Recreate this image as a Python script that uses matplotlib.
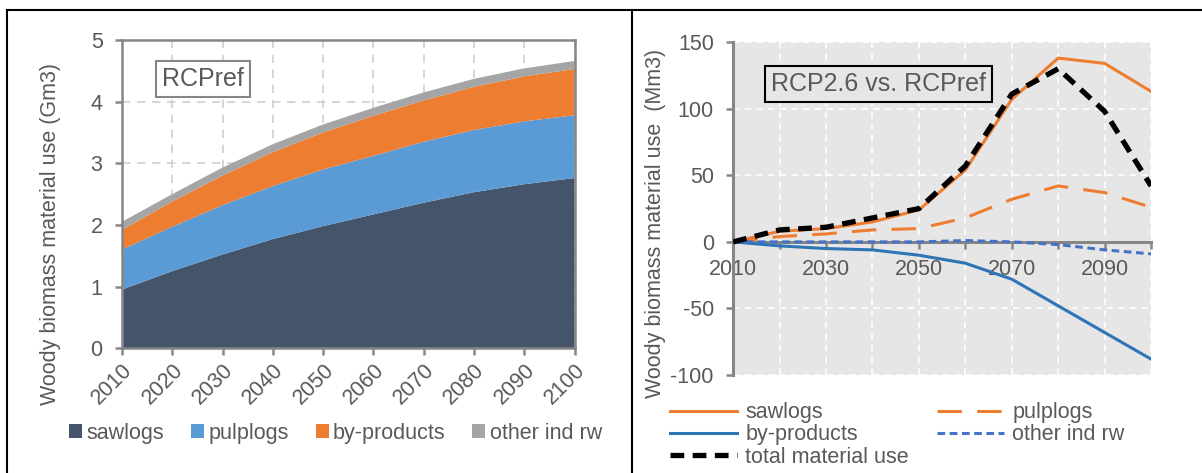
import matplotlib.pyplot as plt
from matplotlib.lines import Line2D

plt.rcParams['font.family'] = ['Liberation Sans', 'DejaVu Sans']
plt.rcParams['axes.unicode_minus'] = False

# DATA
years = [2010, 2020, 2030, 2040, 2050, 2060, 2070, 2080, 2090, 2100]

# RCPref stacked (Gm3)
ref_sawlogs = [0.95, 1.25, 1.52, 1.77, 1.98, 2.17, 2.36, 2.53, 2.66, 2.76]
ref_pulplogs = [0.65, 0.72, 0.80, 0.86, 0.92, 0.95, 0.99, 1.01, 1.02, 1.02]
ref_byproducts = [0.32, 0.41, 0.48, 0.55, 0.60, 0.65, 0.67, 0.70, 0.73, 0.75]
ref_other = [0.13, 0.12, 0.13, 0.13, 0.13, 0.13, 0.13, 0.13, 0.13, 0.13]

# RCP2.6 vs RCPref difference (Mm3)
d_sawlogs = [0, 8, 10, 15, 24, 54, 107, 138, 134, 113]
d_pulplogs = [0, 4, 6, 9, 10, 18, 32, 42, 37, 26]
d_byproducts = [0, -3, -5, -6, -10, -16, -28, -48, -68, -88]
d_other = [0, 0, 0, 0, 0, 1, 0, -2, -6, -9]
d_total = [0, 9, 11, 18, 25, 57, 111, 130, 98, 42]

left_labels = ['sawlogs', 'pulplogs', 'by-products', 'other ind rw']
left_colors = ['#44546a', '#5b9bd5', '#ed7d31', '#a5a5a5']

TXT = '#595959'
AX = '#868686'
FS = 15.5

fig = plt.figure(figsize=(12.02, 4.73), dpi=100)

# ---- left panel ----
ax1 = fig.add_axes([0.1015, 0.264, 0.3765, 0.6514])
ax1.stackplot(years, ref_sawlogs, ref_pulplogs, ref_byproducts, ref_other,
              colors=left_colors, labels=left_labels, zorder=2)
ax1.set_xlim(2010, 2100)
ax1.set_ylim(0, 5)
ax1.set_xticks(years)
ax1.set_xticklabels([str(y) for y in years], rotation=45, ha='right',
                    rotation_mode='anchor')
ax1.set_yticks(range(6))
ax1.grid(True, color='#d0d0d0', linestyle=(0, (5, 4)), linewidth=1.2, zorder=0)
ax1.set_axisbelow(True)
for s in ax1.spines.values():
    s.set_color(AX)
    s.set_linewidth(1.8)
ax1.tick_params(colors=AX, labelcolor=TXT, labelsize=FS, width=1.8, length=5)
ax1.tick_params(axis='y', pad=9)
ax1.tick_params(axis='x', pad=3)
ax1.set_ylabel('Woody biomass material use (Gm3)', color=TXT, fontsize=FS)
ax1.yaxis.set_label_coords(-0.135, 0.37)
ax1.text(0.088, 0.873, 'RCPref', transform=ax1.transAxes, fontsize=18,
         color=TXT, va='center', ha='left',
         bbox=dict(boxstyle='square,pad=0.25', fc='white', ec=AX, lw=1.5))
ax1.legend(loc='center', bbox_to_anchor=(0.472, -0.276), ncol=4,
           frameon=False, fontsize=FS, handlelength=0.6, handleheight=0.6,
           handletextpad=0.2, columnspacing=1.25, labelcolor=TXT)

# ---- right panel ----
ax2 = fig.add_axes([0.61, 0.207, 0.3476, 0.704])
ax2.set_facecolor('#e6e6e6')
ax2.plot(years, d_sawlogs, color='#ed7d31', lw=2.2, label='sawlogs', zorder=3)
ax2.plot(years, d_pulplogs, color='#ed7d31', lw=2.2, dashes=(8, 5),
         label='pulplogs', zorder=3)
ax2.plot(years, d_byproducts, color='#2e75b6', lw=2.2, label='by-products',
         zorder=3)
ax2.plot(years, d_other, color='#4472c4', lw=2.2, dashes=(2.5, 1.5),
         label='other ind rw', zorder=3)
ax2.plot(years, d_total, color='black', lw=3.8, dashes=(2.6, 1.6),
         label='total material use', zorder=4)
ax2.set_xlim(2010, 2100)
ax2.set_ylim(-100, 150)
ax2.set_yticks([-100, -50, 0, 50, 100, 150])
ax2.set_xticks(years)
ax2.set_xticklabels([str(y) if i % 2 == 0 else '' for i, y in enumerate(years)])
ax2.grid(True, color='white', linestyle=(0, (4, 3)), linewidth=1.2, zorder=0)
ax2.set_axisbelow(True)
ax2.spines['bottom'].set_position(('data', 0))
ax2.spines['top'].set_visible(False)
ax2.spines['right'].set_visible(False)
for s in ('left', 'bottom'):
    ax2.spines[s].set_color(AX)
    ax2.spines[s].set_linewidth(2.2)
    ax2.spines[s].set_zorder(2)
ax2.tick_params(colors=AX, labelcolor=TXT, labelsize=FS, width=1.8, length=5)
ax2.tick_params(axis='x', pad=7)
ax2.tick_params(axis='y', pad=9)
ax2.set_ylabel('Woody biomass material use  (Mm3)', color=TXT, fontsize=FS)
ax2.yaxis.set_label_coords(-0.16, 0.456)
ax2.text(0.09, 0.874, 'RCP2.6 vs. RCPref', transform=ax2.transAxes,
         fontsize=18, color=TXT, va='center', ha='left',
         bbox=dict(boxstyle='square,pad=0.25', fc='#e6e6e6', ec='black', lw=1.5))
h, l = ax2.get_legend_handles_labels()
order = [0, 2, 4, 1, 3]
ax2.legend([h[i] for i in order], [l[i] for i in order], loc='upper left',
           bbox_to_anchor=(-0.151, -0.082), ncol=2, frameon=False, fontsize=FS,
           handlelength=3.1, handletextpad=0.4, columnspacing=1.3,
           labelspacing=0.05, borderpad=0, borderaxespad=0, labelcolor=TXT)

# outer table frame
fig.add_artist(Line2D([0.006, 0.999], [0.979, 0.979], color='black', lw=1.5))
fig.add_artist(Line2D([0.006, 0.006], [0.0, 0.979], color='black', lw=1.5))
fig.add_artist(Line2D([0.526, 0.526], [0.0, 0.979], color='black', lw=1.5))

plt.savefig('out.png', dpi=100)
